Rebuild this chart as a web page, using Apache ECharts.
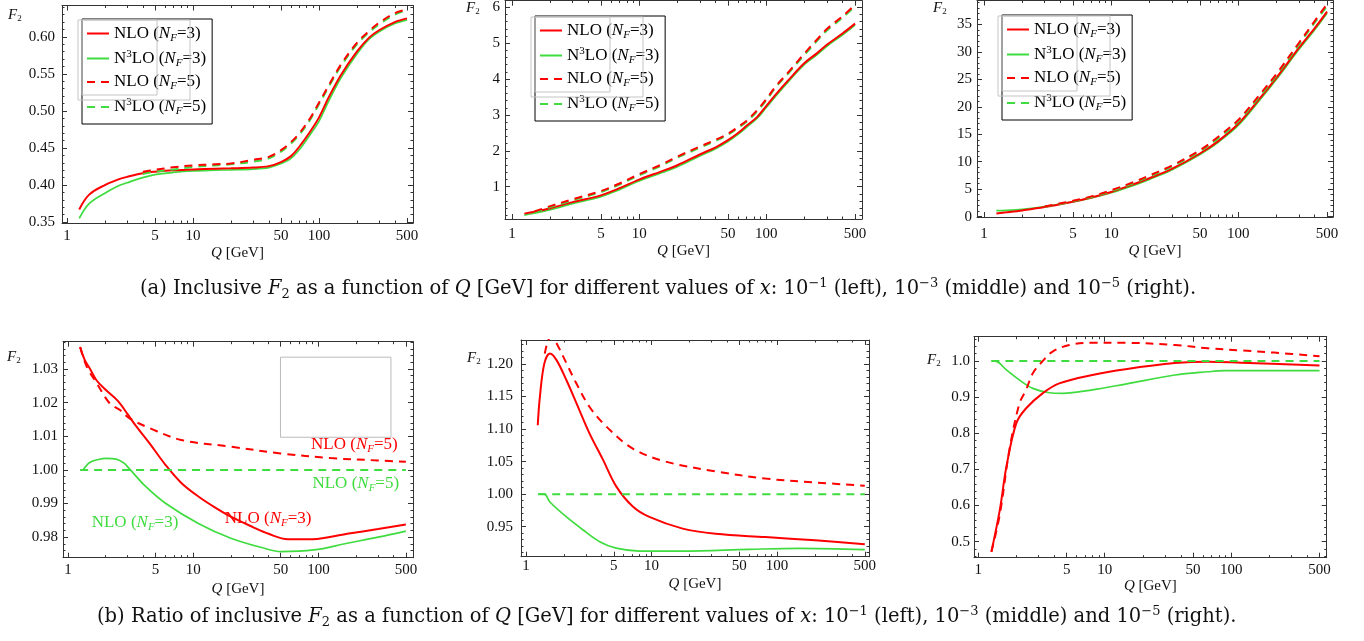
<!DOCTYPE html>
<html>
<head>
<meta charset="utf-8">
<script src="https://cdn.jsdelivr.net/npm/echarts@6.0.0/dist/echarts.min.js"></script>
<style>
html,body{margin:0;padding:0;background:#fff;}
#chart{width:1364px;height:641px;}
</style>
</head>
<body>
<div id="chart"></div>
<script>
// ================= DATA =================
const xTickLabels = [1, 5, 10, 50, 100, 500];
const xMinorTicks = [2, 3, 4, 6, 7, 8, 9, 20, 30, 40, 60, 70, 80, 90, 200, 300, 400];

// (a) left: F2 at x = 1e-1
const aL_Q     = [1.25,1.5,2,2.5,3,4,5,7,10,15,20,30,40,50,60,70,85,100,120,150,200,250,300,400,500];
const aL_NLO3  = [0.367,0.387,0.400,0.407,0.411,0.416,0.418,0.420,0.421,0.422,0.4225,0.4235,0.4255,0.431,0.439,0.452,0.472,0.491,0.519,0.549,0.580,0.599,0.609,0.620,0.625];
const aL_N3LO3 = [0.355,0.375,0.389,0.398,0.403,0.410,0.414,0.417,0.419,0.420,0.4205,0.4215,0.4235,0.429,0.436,0.448,0.468,0.486,0.514,0.545,0.577,0.597,0.607,0.618,0.623];
const aL_Q5    = [4,5,7,10,15,20,30,40,50,60,70,85,100,120,150,200,250,300,400,500];
const aL_NLO5  = [0.418,0.4205,0.424,0.4265,0.428,0.429,0.434,0.438,0.447,0.458,0.470,0.490,0.511,0.535,0.563,0.592,0.608,0.619,0.632,0.637];
const aL_N3LO5 = [0.415,0.418,0.421,0.4245,0.4265,0.428,0.4315,0.436,0.445,0.456,0.468,0.488,0.509,0.533,0.561,0.590,0.606,0.617,0.630,0.636];

// (a) middle: F2 at x = 1e-3
const aM_Q     = [1.25,1.5,2,3,5,7,10,15,20,30,40,50,60,70,85,100,120,150,200,250,300,400,500];
const aM_NLO3  = [0.25,0.30,0.40,0.57,0.76,0.96,1.20,1.43,1.60,1.90,2.10,2.30,2.50,2.70,2.95,3.25,3.59,3.98,4.45,4.72,4.96,5.28,5.55];
const aM_N3LO3 = [0.21,0.26,0.36,0.53,0.72,0.92,1.16,1.39,1.56,1.86,2.06,2.26,2.46,2.66,2.91,3.21,3.55,3.94,4.41,4.68,4.92,5.24,5.51];
const aM_Q5    = [1.5,2,3,5,7,10,15,20,30,40,50,60,70,85,100,120,150,200,250,300,400,500];
const aM_NLO5  = [0.31,0.46,0.65,0.88,1.09,1.35,1.62,1.84,2.12,2.31,2.48,2.67,2.84,3.14,3.44,3.82,4.20,4.72,5.10,5.40,5.76,6.08];
const aM_N3LO5 = [0.28,0.43,0.62,0.85,1.06,1.32,1.59,1.81,2.09,2.28,2.45,2.64,2.81,3.11,3.41,3.79,4.17,4.68,5.06,5.36,5.72,6.04];

// (a) right: F2 at x = 1e-5
const aR_Q     = [1.25,1.5,2,3,5,7,10,15,20,30,50,70,100,150,200,300,400,500];
const aR_NLO3  = [0.6,0.8,1.15,1.75,2.73,3.5,4.5,5.9,7.0,8.7,11.5,13.8,16.9,21.7,25.3,30.7,34.3,37.3];
const aR_N3LO3 = [1.1,1.15,1.35,1.85,2.7,3.4,4.35,5.7,6.8,8.5,11.3,13.6,16.6,21.4,25.0,30.4,34.0,37.0];
const aR_Q5    = [3,5,7,10,15,20,30,50,70,100,150,200,300,400,500];
const aR_NLO5  = [1.85,2.9,3.7,4.8,6.3,7.5,9.3,12.1,14.6,17.6,22.4,26.0,31.6,35.6,38.7];
const aR_N3LO5 = [1.8,2.8,3.6,4.65,6.1,7.3,9.1,11.9,14.3,17.3,22.1,25.7,31.3,35.3,38.3];

// (b) left: ratio at x = 1e-1
const bL_Q_NLO3  = [1.25,1.36,1.5,1.7,2,2.5,3,3.5,4.5,6,8,11,15,20,30,40,57,90,170,300,500];
const bL_NLO3    = [1.0365,1.0327,1.0300,1.0265,1.0238,1.0205,1.0165,1.0130,1.0078,1.0015,0.9962,0.9921,0.9888,0.9861,0.9830,0.9810,0.9794,0.9794,0.9810,0.9824,0.9838];
const bL_Q_N3LO3 = [1.32,1.49,1.75,2.02,2.43,2.8,3.1,4.19,6,11,20,37,50,92,170,300,500];
const bL_N3LO3   = [1.0000,1.0022,1.0031,1.0034,1.0032,1.0020,1.0003,0.9950,0.9901,0.9841,0.9797,0.9767,0.9757,0.9762,0.9782,0.9800,0.9818];
const bL_Q_NLO5  = [1.25,1.41,1.7,2.15,2.6,3.1,4.5,8,20,50,125,300,500];
const bL_NLO5    = [1.0365,1.0307,1.0257,1.0198,1.0178,1.0153,1.0124,1.0089,1.0069,1.0049,1.0035,1.0028,1.0024];
const bL_Q_N3LO5 = [1.25,500];
const bL_N3LO5   = [1.0,1.0];

// (b) middle: ratio at x = 1e-3
const bM_Q_NLO3  = [1.24,1.29,1.40,1.55,1.75,2.10,2.52,3.21,4.10,5.23,7.09,9.6,17.7,32.4,80.8,201,500];
const bM_NLO3    = [1.106,1.150,1.201,1.216,1.206,1.175,1.140,1.093,1.053,1.012,0.981,0.965,0.947,0.939,0.934,0.929,0.923];
const bM_Q_N3LO3 = [1.25,1.40,1.55,2.10,2.85,3.86,5.23,8.0,17.7,59.6,148,500];
const bM_N3LO3   = [1.0,1.0,0.988,0.965,0.945,0.927,0.917,0.9126,0.9126,0.9152,0.9167,0.9147];
const bM_Q_NLO5  = [1.41,1.5,1.6,1.75,2.1,2.52,3.21,4.36,7.09,13,32.4,80.8,201,500];
const bM_NLO5    = [1.216,1.236,1.243,1.232,1.201,1.170,1.134,1.104,1.070,1.050,1.035,1.024,1.018,1.013];
const bM_Q_N3LO5 = [1.25,500];
const bM_N3LO5   = [1.0,1.0];

// (b) right: ratio at x = 1e-5
const bR_Q_NLO3  = [1.27,1.48,1.67,2.0,2.39,3.24,4.37,7.98,14.6,36,65.6,120,500];
const bR_NLO3    = [0.472,0.588,0.708,0.828,0.869,0.911,0.938,0.961,0.977,0.994,0.998,0.995,0.987];
const bR_Q_N3LO3 = [1.27,1.41,1.67,2.12,2.70,3.65,4.64,7.98,14.6,36,65.6,88.7,500];
const bR_N3LO3   = [1.0,0.998,0.975,0.947,0.924,0.912,0.9105,0.92,0.936,0.961,0.970,0.973,0.973];
const bR_Q_NLO5  = [1.27,1.48,1.77,2.12,2.39,2.70,3.24,3.87,5.24,7.98,14.6,36,65.6,120,219,500];
const bR_NLO5    = [0.472,0.575,0.758,0.883,0.920,0.966,1.000,1.026,1.044,1.050,1.050,1.044,1.035,1.029,1.023,1.013];
const bR_Q_N3LO5 = [1.27,500];
const bR_N3LO5   = [1.0,1.0];

// y tick labels per panel
const yTicks_aL = [0.35,0.40,0.45,0.50,0.55,0.60];
const yTicks_aM = [1,2,3,4,5,6];
const yTicks_aR = [0,5,10,15,20,25,30,35];
const yTicks_bL = [0.98,0.99,1.00,1.01,1.02,1.03];
const yTicks_bM = [0.95,1.00,1.05,1.10,1.15,1.20];
const yTicks_bR = [0.5,0.6,0.7,0.8,0.9,1.0];

// ================= LAYOUT / STYLE =================
const SERIF = 'Liberation Serif';
const RED = '#ff0000', GREEN = '#3fdc3f', FRAME = '#333';
const SER_NAMES = ['NLO3', 'N3LO3', 'NLO5', 'N3LO5'];
const LEGEND_TEXT = {
  NLO3:  '{t|NLO (}{i|N}{s|F}{t|=3)}',
  N3LO3: '{t|N}{p|3}{t|LO (}{i|N}{s|F}{t|=3)}',
  NLO5:  '{t|NLO (}{i|N}{s|F}{t|=5)}',
  N3LO5: '{t|N}{p|3}{t|LO (}{i|N}{s|F}{t|=5)}'
};
function richSet(fs) {
  return {
    t: {fontFamily: SERIF, fontSize: fs, lineHeight: fs + 3},
    i: {fontFamily: SERIF, fontSize: fs, fontStyle: 'italic', lineHeight: fs + 3},
    s: {fontFamily: SERIF, fontSize: Math.round(fs * 0.62), fontStyle: 'italic', verticalAlign: 'bottom', lineHeight: Math.round(fs * 0.62)},
    p: {fontFamily: SERIF, fontSize: Math.round(fs * 0.62), verticalAlign: 'top', lineHeight: Math.round(fs * 0.8)}
  };
}
const roleStyle = {
  NLO3:  {color: RED,   type: 'solid', width: 2,   z: 4},
  N3LO3: {color: GREEN, type: 'solid', width: 1.7, z: 3},
  NLO5:  {color: RED,   type: [8, 6],  width: 2,   z: 6},
  N3LO5: {color: GREEN, type: [8, 6],  width: 2,   z: 5}
};

const panels = [
  {left:62,  top:5.5,   width:351,   height:217.5, xMin:0.913, xMax:558, yMin:0.3487, yMax:0.6424, yTicks:yTicks_aL, yStep:0.01,  dec:2, lblMargin:6,  nameGap:23, yLblMargin:7, f2:[8,8],
   lines:{NLO3:[aL_Q,aL_NLO3], N3LO3:[aL_Q,aL_N3LO3], NLO5:[aL_Q5,aL_NLO5], N3LO5:[aL_Q5,aL_N3LO5]}, legend:[82,19]},
  {left:505, top:0.5,   width:357,   height:218.5, xMin:0.88,  xMax:567, yMin:0.10,   yMax:6.19,   yTicks:yTicks_aM, yStep:0.2,   dec:0, lblMargin:8,  nameGap:25, yLblMargin:5, f2:[466,1],
   lines:{NLO3:[aM_Q,aM_NLO3], N3LO3:[aM_Q,aM_N3LO3], NLO5:[aM_Q5,aM_NLO5], N3LO5:[aM_Q5,aM_N3LO5]}, legend:[535,16]},
  {left:977, top:0.5,   width:356,   height:216.5, xMin:0.88,  xMax:557, yMin:-0.05,  yMax:39.33,  yTicks:yTicks_aR, yStep:1,     dec:0, lblMargin:10, nameGap:27, yLblMargin:5, f2:[933,1],
   lines:{NLO3:[aR_Q,aR_NLO3], N3LO3:[aR_Q,aR_N3LO3], NLO5:[aR_Q5,aR_NLO5], N3LO5:[aR_Q5,aR_N3LO5]}, legend:[1002,15]},
  {left:63,  top:341.7, width:350,   height:216,   xMin:0.912, xMax:570, yMin:0.9739, yMax:1.0381, yTicks:yTicks_bL, yStep:0.002, dec:2, lblMargin:5,  nameGap:24, yLblMargin:5, f2:[7,350],
   lines:{NLO3:[bL_Q_NLO3,bL_NLO3], N3LO3:[bL_Q_N3LO3,bL_N3LO3], NLO5:[bL_Q_NLO5,bL_NLO5], N3LO5:[bL_Q_N3LO5,bL_N3LO5]}},
  {left:521, top:340,   width:348,   height:216.7, xMin:0.912, xMax:540, yMin:0.9039, yMax:1.2369, yTicks:yTicks_bM, yStep:0.01,  dec:2, lblMargin:2,  nameGap:20, yLblMargin:8, f2:[467,351],
   lines:{NLO3:[bM_Q_NLO3,bM_NLO3], N3LO3:[bM_Q_N3LO3,bM_N3LO3], NLO5:[bM_Q_NLO5,bM_NLO5], N3LO5:[bM_Q_N3LO5,bM_N3LO5]}},
  {left:974, top:336.7, width:352.7, height:221,   xMin:0.925, xMax:570, yMin:0.4557, yMax:1.067,  yTicks:yTicks_bR, yStep:0.02,  dec:1, lblMargin:5,  nameGap:20, yLblMargin:4, f2:[927,353],
   lines:{NLO3:[bR_Q_NLO3,bR_NLO3], N3LO3:[bR_Q_N3LO3,bR_N3LO3], NLO5:[bR_Q_NLO5,bR_NLO5], N3LO5:[bR_Q_N3LO5,bR_N3LO5]}}
];

// annotations in the lower-left ratio panel (data coordinates)
const annotBL = [
  {role:'NLO5',  at:[194, 1.0074], text:'{t|NLO (}{i|N}{s|F}{t|=5)}', color: RED},
  {role:'N3LO5', at:[199, 0.9958], text:'{t|NLO (}{i|N}{s|F}{t|=5)}', color: GREEN},
  {role:'NLO3',  at:[39.7, 0.9856], text:'{t|NLO (}{i|N}{s|F}{t|=3)}', color: RED},
  {role:'N3LO3', at:[3.43, 0.9843], text:'{t|NLO (}{i|N}{s|F}{t|=3)}', color: GREEN}
];

function steps(a, b, s) {
  const r = [];
  for (let k = Math.ceil(a / s - 1e-6); k * s <= b + 1e-9; k++) r.push(+(k * s).toFixed(6));
  return r;
}

// ================= OPTION =================
const grid = [], xAxis = [], yAxis = [], series = [], graphic = [];
panels.forEach((p, g) => {
  const rect = {left: p.left, top: p.top, width: p.width, height: p.height};
  grid.push(Object.assign({}, rect), Object.assign({}, rect));
  const line = {show: true, onZero: false, lineStyle: {color: FRAME, width: 1}};
  const noLine = {show: false, onZero: false};
  const tickMaj = vals => ({show: true, inside: true, length: 5, customValues: vals, lineStyle: {color: FRAME, width: 1}});
  const tickMin = vals => ({show: true, inside: true, length: 2.5, customValues: vals, lineStyle: {color: FRAME, width: 1}});
  const xb = {type: 'log', logBase: 10, min: p.xMin, max: p.xMax, splitLine: {show: false}, silent: true};
  const yb = {type: 'value', min: p.yMin, max: p.yMax, splitLine: {show: false}, silent: true};
  const lblStyle = {fontFamily: SERIF, fontSize: 15, color: '#111'};

  xAxis.push(Object.assign({}, xb, {gridIndex: 2*g, position: 'bottom', axisLine: line, axisTick: tickMaj(xTickLabels),
    axisLabel: Object.assign({customValues: xTickLabels, formatter: v => String(Math.round(v)), margin: p.lblMargin}, lblStyle),
    name: '{i|Q} [GeV]', nameLocation: 'middle', nameGap: p.nameGap,
    nameTextStyle: {fontFamily: SERIF, fontSize: 15, color: '#111', rich: {i: {fontFamily: SERIF, fontSize: 15, fontStyle: 'italic', color: '#111'}}}}));
  xAxis.push(Object.assign({}, xb, {gridIndex: 2*g, position: 'top', axisLine: line, axisTick: tickMaj(xTickLabels), axisLabel: {show: false}}));
  xAxis.push(Object.assign({}, xb, {gridIndex: 2*g+1, position: 'bottom', axisLine: noLine, axisTick: tickMin(xMinorTicks), axisLabel: {show: false}}));
  xAxis.push(Object.assign({}, xb, {gridIndex: 2*g+1, position: 'top', axisLine: noLine, axisTick: tickMin(xMinorTicks), axisLabel: {show: false}}));

  const yMinor = steps(p.yMin, p.yMax, p.yStep);
  yAxis.push(Object.assign({}, yb, {gridIndex: 2*g, position: 'left', axisLine: line, axisTick: tickMaj(p.yTicks),
    axisLabel: Object.assign({customValues: p.yTicks, formatter: v => v.toFixed(p.dec), margin: p.yLblMargin}, lblStyle)}));
  yAxis.push(Object.assign({}, yb, {gridIndex: 2*g, position: 'right', axisLine: line, axisTick: tickMaj(p.yTicks), axisLabel: {show: false}}));
  yAxis.push(Object.assign({}, yb, {gridIndex: 2*g+1, position: 'left', axisLine: noLine, axisTick: tickMin(yMinor), axisLabel: {show: false}}));
  yAxis.push(Object.assign({}, yb, {gridIndex: 2*g+1, position: 'right', axisLine: noLine, axisTick: tickMin(yMinor), axisLabel: {show: false}}));

  ['N3LO3', 'NLO3', 'N3LO5', 'NLO5'].forEach(role => {
    const [q, v] = p.lines[role];
    const st = roleStyle[role];
    const s = {
      type: 'line', name: role, xAxisIndex: 4*g, yAxisIndex: 4*g,
      data: q.map((x, i) => [x, v[i]]),
      symbol: 'none', showSymbol: false, smooth: 0.35,
      lineStyle: {color: st.color, width: st.width, type: st.type},
      itemStyle: {color: st.color}, z: st.z, silent: true, animation: false,
      emphasis: {disabled: true}, clip: true
    };
    if (g === 3) {
      const an = annotBL.find(a => a.role === role);
      s.markPoint = {
        silent: true, animation: false, symbol: 'rect', symbolSize: 1,
        itemStyle: {color: 'rgba(0,0,0,0)'},
        label: {show: true, position: 'inside', color: an.color, formatter: an.text, rich: richSet(17)},
        data: [{coord: an.at}]
      };
      if (role === 'N3LO5') {
        s.markArea = {silent: true, animation: false,
          itemStyle: {color: 'rgba(0,0,0,0)', borderColor: '#bbb', borderWidth: 1},
          data: [[{coord: [49.8, 1.0335]}, {coord: [380, 1.0097]}]]};
      }
    }
    series.push(s);
  });

  graphic.push({type: 'text', left: p.f2[0], top: p.f2[1], z: 50,
    style: {text: '{f|F}{s|2}', fill: '#111',
      rich: {f: {fontFamily: SERIF, fontStyle: 'italic', fontSize: 15, lineHeight: 16, fill: '#111'},
             s: {fontFamily: SERIF, fontSize: 9, verticalAlign: 'bottom', lineHeight: 10, fill: '#111'}}}});
  if (p.legend) {
    const [lx, ly] = p.legend;
    graphic.push({type: 'rect', z: 60, shape: {x: lx - 4, y: ly + 1, width: 112, height: 80}, style: {fill: 'none', stroke: '#c4c4c4', lineWidth: 1}});
    graphic.push({type: 'rect', z: 60, shape: {x: lx, y: ly + 1, width: 75, height: 75}, style: {fill: 'none', stroke: '#c4c4c4', lineWidth: 1}});
  }
});

const legend = panels.filter(p => p.legend).map(p => ({
  left: p.legend[0], top: p.legend[1], orient: 'vertical', data: SER_NAMES,
  itemWidth: 22, itemHeight: 12, itemGap: 5, padding: [6, 6, 7, 4],
  borderColor: '#000', borderWidth: 1, backgroundColor: 'rgba(255,255,255,0)',
  selectedMode: false, formatter: n => LEGEND_TEXT[n],
  itemStyle: {color: 'rgba(0,0,0,0)', borderWidth: 0, borderColor: 'rgba(0,0,0,0)', opacity: 0},
  textStyle: {fontFamily: SERIF, fontSize: 17, color: '#000', rich: richSet(17)}
}));

// captions
const CAP_FS = 19.5;
const capRich = {
  i: {fontFamily: 'DejaVu Serif', fontSize: CAP_FS, fontStyle: 'italic', lineHeight: 24, color: '#111'},
  sub: {fontFamily: 'DejaVu Serif', fontSize: 13, verticalAlign: 'bottom', lineHeight: 13, color: '#111'},
  sup: {fontFamily: 'DejaVu Serif', fontSize: 13, verticalAlign: 'top', lineHeight: 16, color: '#111'}
};
const capStyle = {fontFamily: 'DejaVu Serif', fontSize: CAP_FS, fontWeight: 'normal', color: '#111', lineHeight: 24, rich: capRich};
const capA = '(a) Inclusive {i|F}{sub|2} as a function of {i|Q} [GeV] for different values of {i|x}: 10{sup|−1} (left), 10{sup|−3} (middle) and 10{sup|−5} (right).';
const capB = '(b) Ratio of inclusive {i|F}{sub|2} as a function of {i|Q} [GeV] for different values of {i|x}: 10{sup|−1} (left), 10{sup|−3} (middle) and 10{sup|−5} (right).';
const title = [
  {left: 135, top: 272, text: capA, textStyle: capStyle},
  {left: 92, top: 600, text: capB, textStyle: capStyle}
];

const chart = echarts.init(document.getElementById('chart'), null, {renderer: 'canvas'});
chart.setOption({
  animation: false, backgroundColor: '#fff',
  title, grid, xAxis, yAxis, series, legend, graphic
});
</script>
</body>
</html>
